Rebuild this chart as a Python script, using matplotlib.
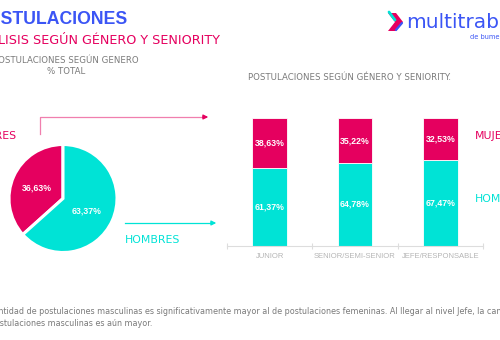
import matplotlib
matplotlib.use("Agg")
import matplotlib.pyplot as plt
from matplotlib.patches import Polygon

# ---- data ----
pie_labels = ["MUJERES", "HOMBRES"]
pie_values = [36.63, 63.37]
pie_texts = ["36,63%", "63,37%"]

categories = ["JUNIOR", "SENIOR/SEMI-SENIOR", "JEFE/RESPONSABLE"]
hombres = [61.37, 64.78, 67.47]
mujeres = [38.63, 35.22, 32.53]
hombres_txt = ["61,37%", "64,78%", "67,47%"]
mujeres_txt = ["38,63%", "35,22%", "32,53%"]

title = "POSTULACIONES"
subtitle = "ANÁLISIS SEGÚN GÉNERO Y SENIORITY"
pie_title = "POSTULACIONES SEGÚN GENERO\n% TOTAL"
bar_title = "POSTULACIONES SEGÚN GÉNERO Y SENIORITY."
note_line1 = ("La cantidad de postulaciones masculinas es significativamente mayor al de "
              "postulaciones femeninas. Al llegar al nivel Jefe, la cantidad")
note_line2 = "de postulaciones masculinas es aún mayor."

MAG = "#E5005F"
CYAN = "#00E3D6"
BLUE = "#3B55F5"
GREY = "#7A7A7A"
LGREY = "#B5B5B5"

W, H = 500, 340
fig = plt.figure(figsize=(5, 3.4), dpi=100)
fig.patch.set_facecolor("white")

bg = fig.add_axes([0, 0, 1, 1])


def py(y):
    return H - y


HF = "DejaVu Sans"

# pie
wedges, _ = bg.pie(pie_values, colors=[MAG, CYAN], startangle=90,
                   counterclock=True, center=(63, py(198.5)), radius=54,
                   wedgeprops=dict(edgecolor="white", linewidth=2.2),
                   frame=True)
bg.set_xlim(0, W)
bg.set_ylim(0, H)
bg.axis("off")

# titles
bg.text(128, py(20), title, color=BLUE, fontsize=12.7, fontweight="bold",
        family="Liberation Sans", ha="right", va="center")
bg.text(220, py(41), subtitle, color=MAG, fontsize=9.2, family=HF,
        ha="right", va="center")

# logo
chev = Polygon([[388, py(13)], [396, py(13)], [403, py(22)], [396, py(31)],
                [388, py(31)], [395, py(22)]], closed=True,
               facecolor=MAG, edgecolor="none")
bg.add_patch(chev)
bg.plot([389, 395], [py(12), py(20)], color=CYAN, lw=2, solid_capstyle="round")
bg.plot([396, 402], [py(30), py(23)], color=BLUE, lw=1.6, solid_capstyle="round")
bg.text(406, py(22), "multitrabajos", color=BLUE, fontsize=14.5, family=HF,
        ha="left", va="center")
bg.text(470, py(37), "de bumeran", color=BLUE, fontsize=4.8, family=HF,
        ha="left", va="center")

# pie title
bg.text(66, py(66), pie_title, color=GREY, fontsize=6.2, family=HF,
        ha="center", va="center", linespacing=1.3)

bg.text(37, py(188), pie_texts[0], color="white", fontsize=6.3,
        fontweight="bold", family="Liberation Sans", ha="center", va="center")
bg.text(87, py(211), pie_texts[1], color="white", fontsize=6.3,
        fontweight="bold", family="Liberation Sans", ha="center", va="center")

# pie side labels
bg.text(17, py(136), pie_labels[0], color=MAG, fontsize=7.8, family=HF,
        ha="right", va="center")
bg.text(125, py(240), pie_labels[1], color=CYAN, fontsize=7.8, family=HF,
        ha="left", va="center")

# arrows
bg.plot([40, 40, 205], [py(134), py(117), py(117)], color="#F07FAE", lw=0.9)
bg.annotate("", xy=(211, py(117)), xytext=(200, py(117)),
            arrowprops=dict(arrowstyle="-|>", color=MAG, lw=0.9,
                            mutation_scale=7))
bg.plot([125, 212], [py(223), py(223)], color=CYAN, lw=0.9)
bg.annotate("", xy=(219, py(223)), xytext=(208, py(223)),
            arrowprops=dict(arrowstyle="-|>", color=CYAN, lw=0.9,
                            mutation_scale=7))

# bar chart title
bg.text(248, py(78), bar_title, color=GREY, fontsize=6.2, family=HF,
        ha="left", va="center")

# right labels
bg.text(475, py(136), "MUJERES", color=MAG, fontsize=7.8, family=HF,
        ha="left", va="center")
bg.text(475, py(199), "HOMBRES", color=CYAN, fontsize=7.8, family=HF,
        ha="left", va="center")

# bottom note
bg.text(-23, py(311), note_line1, color=GREY, fontsize=5.75, family=HF,
        ha="left", va="center")
bg.text(-23, py(324), note_line2, color=GREY, fontsize=5.75, family=HF,
        ha="left", va="center")

# ---- bar chart axes ----
x0, x1 = 227, 483
yb, yt = 245.7, 118.3
ax = fig.add_axes([x0 / W, (H - yb) / H, (x1 - x0) / W, (yb - yt) / H])
ax.patch.set_alpha(0)
xs = list(range(len(categories)))
bw = 0.41
ax.bar(xs, hombres, width=bw, color=CYAN, edgecolor="white", linewidth=0.6)
ax.bar(xs, mujeres, width=bw, bottom=hombres, color=MAG, edgecolor="white",
       linewidth=0.6)
for i in xs:
    ax.text(i, hombres[i] / 2, hombres_txt[i], color="white", fontsize=6.3,
            fontweight="bold", family="Liberation Sans", ha="center", va="center")
    ax.text(i, hombres[i] + mujeres[i] / 2, mujeres_txt[i], color="white",
            fontsize=6.3, fontweight="bold", family="Liberation Sans",
            ha="center", va="center")
ax.set_xlim(-0.5, len(categories) - 0.5)
ax.set_ylim(0, 100)
for s in ["top", "right", "left"]:
    ax.spines[s].set_visible(False)
ax.spines["bottom"].set_color("#DDDDDD")
ax.spines["bottom"].set_linewidth(0.8)
ax.set_yticks([])
ax.set_xticks(xs)
ax.set_xticklabels(categories, color=LGREY, fontsize=5.5,
                   family="Liberation Sans")
ax.tick_params(axis="x", which="major", length=0, pad=5)
ax.set_xticks([-0.5, 0.5, 1.5, 2.5], minor=True)
ax.tick_params(axis="x", which="minor", length=4, direction="inout",
               color="#DDDDDD", width=0.8)

fig.savefig("out.png", dpi=100)
